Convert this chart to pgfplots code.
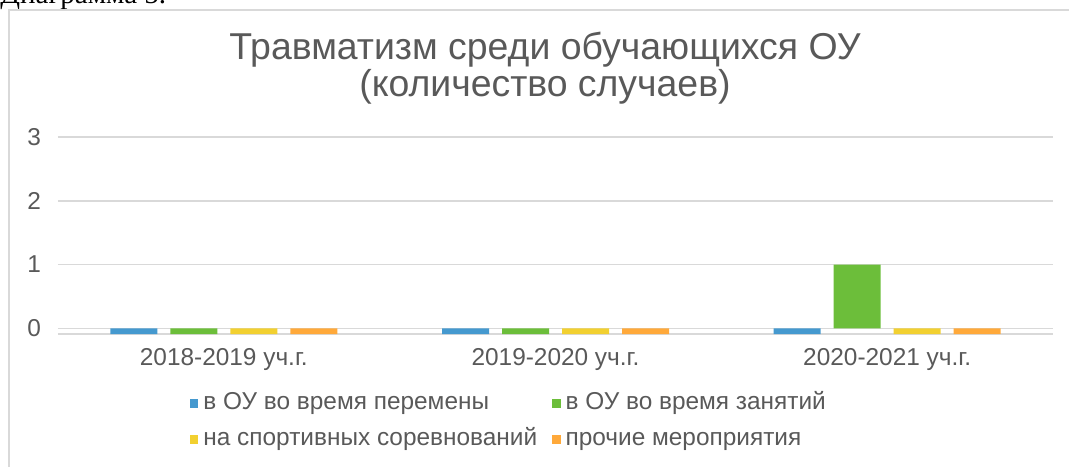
\documentclass[border=0pt]{standalone}
\usepackage{pgfplots}
\pgfplotsset{compat=1.18}
\usepackage{fontspec}
\setmainfont{Liberation Sans}
\newfontfamily\seriffont{Liberation Serif}
\definecolor{txt}{HTML}{595959}
\definecolor{gridc}{HTML}{D9D9D9}
\definecolor{cA}{HTML}{4599CF}
\definecolor{cB}{HTML}{6CBE3A}
\definecolor{cC}{HTML}{F2D030}
\definecolor{cD}{HTML}{FFA93A}
\pgfplotsset{
  sq/.style={legend image code/.code={\fill[##1,draw=none] (0pt,-2.1pt) rectangle (4.2pt,2.1pt);}},
}
\begin{document}
\begin{tikzpicture}[x=0.5pt,y=0.5pt]
\useasboundingbox (0,0) rectangle (1069,466);
\node[anchor=base west, inner sep=0pt, font=\seriffont\fontsize{14.5}{16}\selectfont] at (0,462.5) {Диаграмма 5.};
\draw[color=gridc, line width=0.6pt] (9,-5) -- (9,456) -- (1075,456);
\node[text=txt, font=\fontsize{18.7}{17}\selectfont, align=center] at (545,398) {Травматизм среди обучающихся ОУ\\(количество случаев)};
\begin{axis}[
  at={(29pt,66pt)}, anchor=south west, scale only axis,
  width=497.5pt, height=98.5pt,
  xmin=-0.5, xmax=2.5, ymin=-0.09, ymax=3,
  ytick={0,1,2,3}, xtick={0,1,2},
  xticklabels={2018-2019 уч.г.,2019-2020 уч.г.,2020-2021 уч.г.},
  ymajorgrids, grid style={gridc, line width=0.75pt},
  axis x line*=bottom, axis y line*=left,
  y axis line style={draw=none}, x axis line style={gridc, line width=0.75pt},
  tick style={draw=none},
  ticklabel style={font=\fontsize{12.2}{14}\selectfont, text=txt},
  yticklabel style={xshift=-5pt},
  xticklabel style={yshift=0.5pt},
  /pgf/number format/assume math mode=true,
  ybar=6.5pt, bar width=23.5pt,
  legend columns=2,
  legend style={draw=none, fill=none, inner sep=0pt, outer sep=0pt,
    font=\fontsize{12.2}{14}\selectfont, text=txt, anchor=west,
    at={(0.1327,-0.445)},
    cells={anchor=west}, nodes={inner xsep=2.5pt, inner ysep=0pt, text height=9pt, text depth=3pt},
    row sep=6pt,
    /tikz/every even column/.append style={column sep=5pt}},
]
\addplot[fill=cA, draw=none, sq] coordinates {(0,-0.09) (1,-0.09) (2,-0.09)};
\addplot[fill=cB, draw=none, sq] coordinates {(0,-0.09) (1,-0.09) (2,1)};
\addplot[fill=cC, draw=none, sq] coordinates {(0,-0.09) (1,-0.09) (2,-0.09)};
\addplot[fill=cD, draw=none, sq] coordinates {(0,-0.09) (1,-0.09) (2,-0.09)};
\legend{в ОУ во время перемены,в ОУ во время занятий,на спортивных соревнований,прочие мероприятия}
\end{axis}
\end{tikzpicture}
\end{document}
